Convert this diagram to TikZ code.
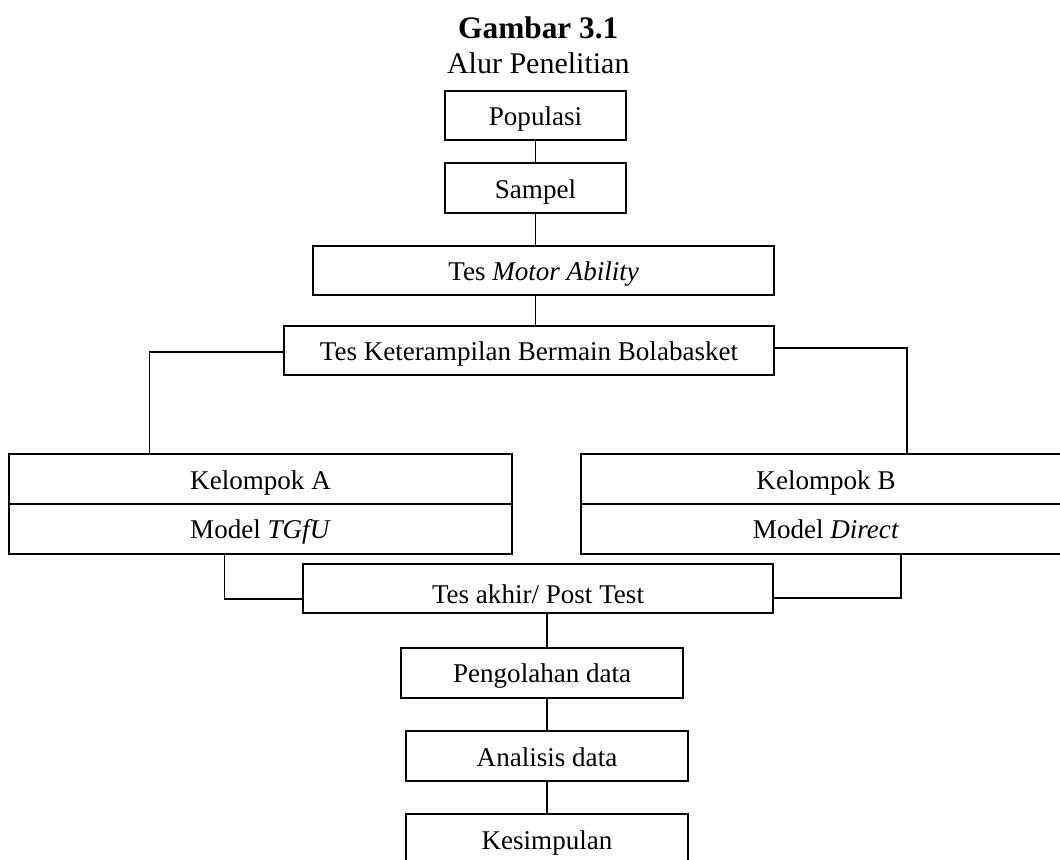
\documentclass[tikz,border=0pt]{standalone}
\usepackage{fontspec}
\setmainfont{Liberation Serif}
\begin{document}
\begin{tikzpicture}[x=0.75pt,y=-0.75pt,
  box/.style={draw,line width=1.5pt,rectangle,inner sep=0pt,minimum height=37.5pt,
    text height=15pt,text depth=0pt,font=\fontsize{20.3}{24}\selectfont},
  conn/.style={line width=1.4pt}]
\useasboundingbox (0,0) rectangle (1060,860);
\clip (0,0) rectangle (1060,860);
\fill[white] (0,0) rectangle (1060,860);
% title
\node[anchor=base,inner sep=0pt,font=\fontsize{23.5}{28}\selectfont\bfseries] (title) at (538.3,38.3) {Gambar 3.1};
\node[anchor=base,inner sep=0pt,font=\fontsize{22.5}{27}\selectfont] (subtitle) at (538.3,73.3) {Alur Penelitian};
% boxes
\node[box,minimum width=135.75pt,minimum height=37pt] (pop) at (535.5,115.35) {Populasi};
\node[box,minimum width=135.75pt] (sam) at (535.5,188) {Sampel};
\node[box,minimum width=345.5pt,minimum height=37pt] (mot) at (543.65,270.35) {Tes \textit{Motor Ability}};
\node[box,minimum width=367.5pt,minimum height=36.75pt] (ket) at (529,350.5) {Tes Keterampilan Bermain Bolabasket};
\node[box,minimum width=377.25pt,minimum height=37pt] (kelA) at (260.5,479) {Kelompok A};
\node[box,minimum width=377.25pt,minimum height=37.7pt] (modA) at (260.5,528.85) {Model \textit{TGfU}};
\node[box,minimum width=367.5pt,minimum height=37pt] (kelB) at (826,479) {Kelompok B};
\node[box,minimum width=367.5pt,minimum height=37.7pt] (modB) at (826,528.85) {Model \textit{Direct}};
\node[box,minimum width=353pt,minimum height=37.1pt,text height=22.9pt] (akhir) at (538,588.25) {Tes akhir/ Post Test};
\node[box,minimum width=211.7pt] (olah) at (542.15,672.7) {Pengolahan data};
\node[box,minimum width=212pt,minimum height=37.3pt] (anal) at (547,756.15) {Analisis data};
\node[box,minimum width=212pt] (kes) at (547,839) {Kesimpulan};
% connectors
\draw[conn] (pop.south) -- (sam.north);
\draw[conn] (sam.south) -- (sam.south |- mot.north);
\draw[conn] (mot.south -| sam.south) -- (ket.north -| sam.south);
\draw[conn] ([yshift=-0.9pt]ket.west) -| ([xshift=106.1pt]kelA.north west);
\draw[conn] ([yshift=2.1pt]ket.east) -| ([xshift=245.25pt]kelB.north west);
\draw[conn] ([xshift=162.4pt]modA.south west) |- ([yshift=-8.06pt]akhir.west);
\draw[conn] ([xshift=240.75pt]modB.south west) |- ([yshift=-7.3pt]akhir.east);
\draw[conn] (akhir.south -| anal.north) -- (olah.north -| anal.north);
\draw[conn] (olah.south -| anal.north) -- (anal.north);
\draw[conn] (anal.south) -- (kes.north);
\end{tikzpicture}
\end{document}
